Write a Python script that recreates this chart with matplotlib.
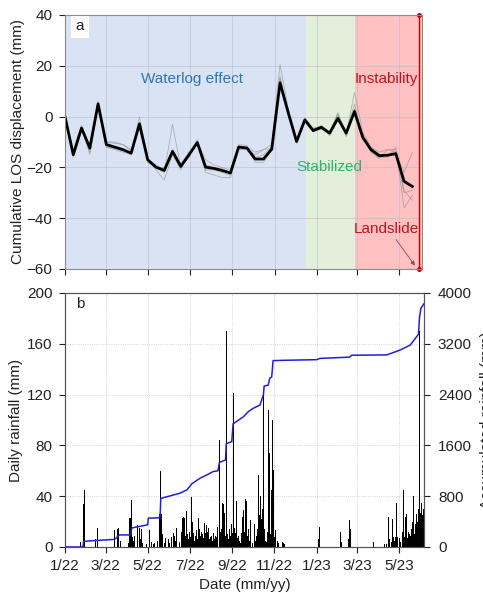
import matplotlib
matplotlib.use('Agg')
import matplotlib.pyplot as plt
import numpy as np
import pandas as pd

plt.rcParams['font.family'] = ['Liberation Sans', 'DejaVu Sans']

START = pd.Timestamp('2022-01-01')

# --- panel a: InSAR cumulative LOS displacement (days since 2022-01-01) ---
sar_day = [0, 12, 24, 36, 48, 60, 72, 84, 96, 108, 120, 132, 144, 156, 168,
           180, 192, 204, 216, 228, 240, 252, 264, 276, 288, 300, 312, 324,
           336, 348, 360, 372, 384, 396, 408, 420, 432, 444, 456, 468, 480,
           492, 504]
los_mean = [0, -15, -4.5, -12.4, 5, -11, -12, -13, -14.4, -2.9, -17, -19.9,
            -21.2, -13.7, -19.6, -15, -10.2, -19.9, -20.4, -21.2, -22.2, -12,
            -12.4, -16.7, -16.7, -12.8, 13.3, 1.5, -9.8, -1.3, -5.5, -4.2,
            -6.5, -0.7, -6.5, 2, -8.1, -13, -15.4, -15.2, -14.6, -25.5, -27.5]
los_p1 = [0, -16, -5, -14, 4, -10, -10.5, -11, -13, -2, -18, -20, -22, -3,
          -20, -16, -9, -21, -21, -22, -23, -11, -11.5, -18, -18, -13, 15, 2,
          -10, -2, -6, -5, -7, 1, -8, 3, -9, -14, -16, -16, -12, -36, -31]
los_p2 = [0, -14, -4, -11, 6, -12, -13, -14, -15, 0, -16, -21, -25, -15, -21,
          -14, -11, -22, -23, -24, -24, -13, -13, -15, -13, -11, 20.5, 3, -9,
          -1, -5, -3.5, -6, 1.5, -7, 9.5, -6, -12, -14, -13, -14, -22, -14]
los_p3 = [0, -13, -3.5, -15, 5.5, -10, -10, -11, -13.5, -3.5, -17.5, -20, -20,
          -13, -18.5, -14, -10, -17, -19, -20, -21, -11.5, -12, -16, -15, -12,
          16, 1, -10.5, -0.5, -4.5, -4, -7.5, -1, -7.5, 3, -7, -14, -16.5,
          -13, -13, -29, -33]
los_p4 = [0, -15.5, -5, -13, 4.5, -12, -12.5, -13.5, -14, -2.5, -17, -19, -21,
          -14, -20, -15.5, -10, -19, -20, -20.5, -22, -12, -12, -14, -13,
          -12.5, 12, 0, -9.5, -1.5, -6, -4.5, -6, 1, -6, 5, -9, -12, -15, -15,
          -14, -30, -29]

phase_day = [0, 350, 421, 521]
phase_color = ['#dae3f3', '#e2efda', '#ffc1c1']
landslide_day = 513

# --- panel b: daily rainfall (days since 2022-01-01) ---
rain_day = [22, 23, 27, 28, 44, 45, 47, 72, 74, 76, 78, 80, 92, 94, 95, 97,
            98, 100, 101, 103, 105, 108, 110, 111, 113, 118, 122, 123, 126,
            128, 130, 132, 134, 137, 138, 139, 140, 141, 142, 144, 146, 148,
            150, 152, 155, 157, 159, 160, 162, 164, 166, 167, 169, 170, 171,
            172, 173, 174, 175, 176, 177, 178, 179, 181, 182, 183, 185, 186,
            187, 188, 189, 190, 191, 192, 193, 194, 195, 196, 197, 198, 199,
            200, 201, 202, 203, 204, 205, 206, 207, 208, 209, 210, 211, 212,
            213, 214, 215, 216, 217, 218, 219, 220, 221, 222, 224, 225, 226,
            227, 228, 229, 230, 231, 232, 233, 234, 235, 236, 237, 238, 239,
            240, 241, 242, 243, 244, 245, 246, 247, 248, 249, 250, 251, 252,
            253, 254, 255, 256, 257, 258, 259, 260, 261, 262, 263, 264, 265,
            266, 267, 268, 269, 270, 272, 275, 276, 278, 279, 280, 281, 282,
            283, 284, 285, 286, 287, 288, 289, 290, 291, 293, 294, 295, 296,
            297, 298, 299, 300, 301, 302, 303, 304, 305, 306, 308, 310, 312,
            316, 317, 318, 368, 369, 370, 400, 401, 412, 413, 414, 415, 447,
            448, 463, 464, 466, 470, 471, 474, 475, 476, 477, 478, 479, 480,
            481, 482, 483, 485, 487, 489, 490, 491, 492, 493, 494, 495, 496,
            497, 498, 499, 500, 501, 502, 503, 504, 505, 506, 507, 508, 509,
            510, 511, 512, 513, 514, 515, 516, 517, 518, 519, 520]
rain_mm = [4, 3, 34, 45, 6, 10, 15, 13, 13, 14, 15, 5, 3, 23, 23, 37,
           8, 5, 9, 4, 17, 15, 6, 14, 3, 2, 84, 13, 4,
           2, 3, 3, 5, 26, 36, 60, 26, 10, 6, 3, 7, 4,
           6, 3, 8, 11, 9, 5, 15, 13, 4, 7, 12, 6, 23,
           24, 14, 23, 9, 28, 15, 10, 6, 12, 8, 39, 20, 11,
           7, 5, 9, 16, 13, 6, 11, 23, 14, 21, 9, 12, 6,
           10, 7, 13, 19, 11, 17, 9, 12, 15, 10, 6, 8, 7,
           9, 5, 8, 11, 6, 9, 5, 8, 16, 4, 84, 5, 12,
           14, 35, 20, 34, 13, 27, 9, 170, 8, 10, 6, 12, 14,
           9, 27, 18, 11, 121, 27, 15, 8, 11, 36, 7, 4, 9,
           5, 8, 3, 11, 24, 14, 29, 9, 12, 38, 7, 36, 9,
           14, 10, 5, 21, 4, 3, 18, 5, 9, 14, 30, 57, 25,
           68, 40, 22, 86, 30, 121, 14, 9, 5, 4, 12, 108, 20,
           74, 10, 15, 45, 100, 61, 30, 8, 4, 13, 5, 3, 3,
           4, 3, 2, 6, 16, 4, 12, 4, 6, 21, 14, 4, 3,
           4, 3, 2, 2, 24, 6, 4, 22, 12, 8, 5, 15, 8,
           35, 8, 5, 7, 4, 3, 12, 45, 20, 8, 24, 14, 26,
           7, 5, 12, 10, 6, 9, 14, 20, 15, 40, 10, 34, 18,
           26, 12, 20, 30, 170, 18, 27, 35, 20, 25, 30]

acc_day = [0, 26, 27, 72, 79, 95, 97, 120, 121, 138, 139, 167, 177, 184, 191,
           196, 206, 215, 222, 224, 233, 234, 242, 244, 252, 259, 266, 273,
           283, 288, 289, 295, 297, 300, 302, 317, 365, 370, 413, 416, 467,
           486, 501, 513, 514.5, 516.5, 521]
acc_mm = [0, 0, 90, 120, 190, 190, 300, 350, 455, 460, 765, 848, 900, 995,
          1047, 1083, 1136, 1188, 1200, 1330, 1372, 1625, 1660, 1940, 2000,
          2052, 2131, 2183, 2236, 2400, 2534, 2550, 2655, 2680, 2935, 2940,
          2950, 2970, 2990, 3020, 3025, 3100, 3180, 3350, 3620, 3760, 3830]

tick_dates = ['2022-01-01', '2022-03-01', '2022-05-01', '2022-07-01',
              '2022-09-01', '2022-11-01', '2023-01-01', '2023-03-01',
              '2023-05-01']
tick_labels = ['1/22', '3/22', '5/22', '7/22', '9/22', '11/22', '1/23',
               '3/23', '5/23']


def to_date(days):
    return START + pd.to_timedelta(np.asarray(days, dtype=float), unit='D')


W, H = 483, 593
fig = plt.figure(figsize=(W / 100, H / 100), dpi=100)
ax1 = fig.add_axes([65 / W, 1 - 269 / H, 357 / W, 254 / H])
ax2 = fig.add_axes([65 / W, 1 - 547 / H, 359 / W, 254 / H])

ticks = pd.to_datetime(tick_dates)
FS = 11
TXT = '#222222'

# ---------------- panel a ----------------
for i in range(3):
    ax1.axvspan(to_date(phase_day[i]), to_date(phase_day[i + 1]),
                color=phase_color[i], lw=0, zorder=0)
sx = to_date(sar_day)
for s in [los_p1, los_p2, los_p3, los_p4]:
    ax1.plot(sx, s, color='#8c8c8c', lw=0.6, alpha=0.6, zorder=2)
ax1.plot(sx, los_mean, color='black', lw=2, zorder=3)

ax1.plot([to_date(landslide_day)] * 2, [40, -60], color='#c00000', lw=1,
         marker='o', ms=2.5, clip_on=False, zorder=4)
ax1.annotate('', xy=(to_date(510), -59.5), xytext=(to_date(478), -47.5),
             arrowprops=dict(arrowstyle='-|>', color='#a04050', lw=0.6,
                             mutation_scale=6))

ax1.text(to_date(184), 15, 'Waterlog effect', color='#2e75b6', fontsize=FS,
         ha='center', va='center')
ax1.text(to_date(383), -20, 'Stabilized', color='#2fb36b', fontsize=FS,
         ha='center', va='center')
ax1.text(to_date(466), 15, 'Instability', color='#c0141c', fontsize=FS,
         ha='center', va='center')
ax1.text(to_date(466), -44.3, 'Landslide', color='#c0141c', fontsize=FS,
         ha='center', va='center')
ax1.text(0.03, 0.955, 'a', transform=ax1.transAxes, fontsize=FS, color=TXT,
         ha='left', va='center',
         bbox=dict(boxstyle='square,pad=0.3', fc='white', ec='none'))

ax1.set_ylim(-60, 40)
ax1.set_yticks([-60, -40, -20, 0, 20, 40])
ax1.set_xlim(to_date(0), to_date(518))
ax1.set_xticks(ticks)
ax1.set_xticklabels([])
ax1.grid(True, color='#b8bfcc', lw=0.6, alpha=0.7)
for g in ax1.get_xgridlines() + ax1.get_ygridlines():
    g.set_zorder(1)
ax1.set_ylabel('Cumulative LOS displacement (mm)', fontsize=FS, color=TXT,
               labelpad=1)
ax1.tick_params(axis='y', labelsize=FS, colors=TXT, length=4, width=0.8,
                pad=5)
ax1.tick_params(axis='x', colors=TXT, length=4, width=0.8)
for sp in ax1.spines.values():
    sp.set_color('#8a8a8a')
    sp.set_zorder(5)

# ---------------- panel b ----------------
ax2.bar(to_date(rain_day), rain_mm, width=1.2, color='black', lw=0,
        zorder=2)
ax2.set_ylim(0, 200)
ax2.set_yticks([0, 40, 80, 120, 160, 200])
ax2.set_xlim(to_date(0), to_date(521))
ax2.set_xticks(ticks)
ax2.set_xticklabels(tick_labels)
ax2.grid(True, color='#c8c8c8', lw=0.6, ls=':')
ax2.set_axisbelow(True)
ax2.set_ylabel('Daily rainfall (mm)', fontsize=FS, color=TXT, labelpad=3)
ax2.set_xlabel('Date (mm/yy)', fontsize=FS, color=TXT, labelpad=3)
ax2.tick_params(axis='y', labelsize=FS, colors=TXT, length=4, width=0.8,
                pad=5)
ax2.tick_params(axis='x', labelsize=FS, colors=TXT, length=4, width=0.8,
                pad=5)
ax2.text(0.03, 0.955, 'b', transform=ax2.transAxes, fontsize=FS, color=TXT,
         ha='left', va='center')

ax3 = ax2.twinx()
ax3.plot(to_date(acc_day), acc_mm, color='#1f1fd6', lw=1.1, zorder=3)
ax3.set_ylim(0, 4000)
ax3.set_yticks([0, 800, 1600, 2400, 3200, 4000])
ax3.set_ylabel('Accumulated rainfall (mm)', fontsize=FS, color=TXT,
               labelpad=6)
ax3.tick_params(labelsize=FS, colors=TXT, length=4, width=0.8, pad=6)
for a in (ax2, ax3):
    for sp in a.spines.values():
        sp.set_color('#555555')

fig.savefig('out.png', dpi=100)
